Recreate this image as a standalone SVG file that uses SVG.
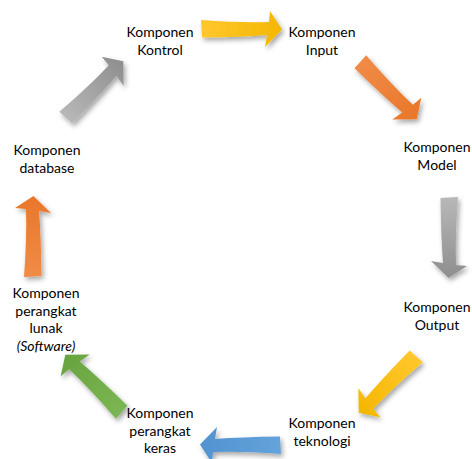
<svg xmlns="http://www.w3.org/2000/svg" width="472" height="459" viewBox="0 0 472 459">
<defs>
<filter id="sh" x="-30%" y="-30%" width="160%" height="160%">
<feDropShadow dx="2" dy="3" stdDeviation="2.5" flood-color="#000" flood-opacity="0.35"/>
</filter>
<linearGradient id="gY" x1="0" y1="0" x2="1" y2="0"><stop offset="0" stop-color="#FFC72E"/><stop offset="1" stop-color="#F4B700"/></linearGradient>
<linearGradient id="gO" x1="0" y1="0" x2="1" y2="0"><stop offset="0" stop-color="#F08B47"/><stop offset="1" stop-color="#E9772A"/></linearGradient>
<linearGradient id="gG" x1="0" y1="0" x2="1" y2="0"><stop offset="0" stop-color="#B8B8B8"/><stop offset="1" stop-color="#8E8E8E"/></linearGradient>
<linearGradient id="gB" x1="0" y1="0" x2="1" y2="0"><stop offset="0" stop-color="#64A3DB"/><stop offset="1" stop-color="#5193CF"/></linearGradient>
<linearGradient id="gN" x1="0" y1="0" x2="1" y2="0"><stop offset="0" stop-color="#7BB653"/><stop offset="1" stop-color="#68A43F"/></linearGradient>
<path id="arr" d="M-40,-9 Q0,-6 28,-7 L29,-18 L41,0.5 L24,18 L26,6 Q0,8 -39,8.5 Z"/>
</defs>
<style>
text{font-family:Lato,"Open Sans","Liberation Sans",sans-serif;font-size:14px;fill:#000;text-anchor:middle}
.it{font-style:italic}
</style>
<g id="connectors">
<g filter="url(#sh)"><use href="#arr" fill="url(#gY)" transform="rotate(0 241 237) translate(241 29)"/></g>
<g filter="url(#sh)"><use href="#arr" fill="url(#gO)" transform="rotate(45 241 237) translate(241 29)"/></g>
<g filter="url(#sh)"><use href="#arr" fill="url(#gG)" transform="rotate(90 241 237) translate(241 29)"/></g>
<g filter="url(#sh)"><use href="#arr" fill="url(#gY)" transform="rotate(135 241 237) translate(241 29)"/></g>
<g filter="url(#sh)"><use href="#arr" fill="url(#gB)" transform="rotate(180 241 237) translate(241 29)"/></g>
<g filter="url(#sh)"><use href="#arr" fill="url(#gN)" transform="rotate(225 241 237) translate(241 29)"/></g>
<g filter="url(#sh)"><use href="#arr" fill="url(#gO)" transform="rotate(270 241 237) translate(241 29)"/></g>
<g filter="url(#sh)"><use href="#arr" fill="url(#gG)" transform="rotate(315 241 237) translate(241 29)"/></g>
</g>
<g id="node-kontrol"><text x="160" y="37">Komponen</text><text x="160" y="54.5">Kontrol</text></g>
<g id="node-input"><text x="322" y="37">Komponen</text><text x="322" y="54.5">Input</text></g>
<g id="node-model"><text x="437" y="152">Komponen</text><text x="437" y="169.5">Model</text></g>
<g id="node-output"><text x="437" y="312">Komponen</text><text x="437" y="329.5">Output</text></g>
<g id="node-teknologi"><text x="322" y="428">Komponen</text><text x="322" y="445.5">teknologi</text></g>
<g id="node-keras"><text x="160" y="418">Komponen</text><text x="160" y="435.5">perangkat</text><text x="160" y="453">keras</text></g>
<g id="node-software"><text x="46" y="298">Komponen</text><text x="46" y="315.5">perangkat</text><text x="46" y="333">lunak</text><text x="46" y="350.5" class="it">(Software)</text></g>
<g id="node-database"><text x="47" y="155">Komponen</text><text x="47" y="172.5">database</text></g>
</svg>
